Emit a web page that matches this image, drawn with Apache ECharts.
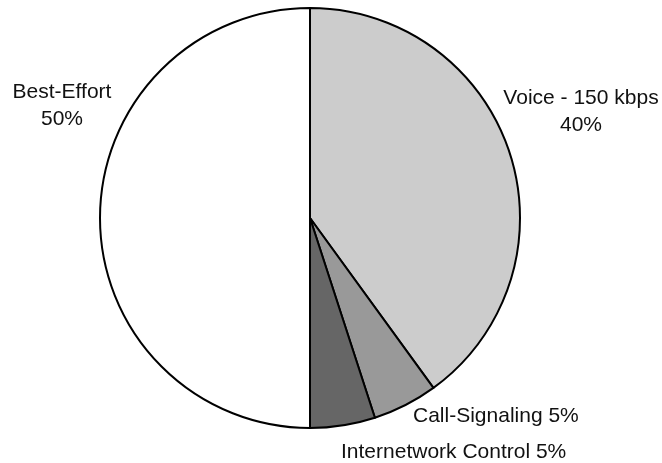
<!DOCTYPE html>
<html><head><meta charset="utf-8">
<script src="https://cdn.jsdelivr.net/npm/echarts@6/dist/echarts.min.js"></script>
<style>html,body{margin:0;padding:0;background:#fff}#c{width:662px;height:463px}</style>
</head><body><div id="c"></div>
<script>
const categories = ["Voice - 150 kbps", "Call-Signaling", "Internetwork Control", "Best-Effort"];
const values = [40, 5, 5, 50];
const labelTexts = ["Voice - 150 kbps\n40%", "Call-Signaling 5%", "Internetwork Control 5%", "Best-Effort\n50%"];
const colors = ["#cccccc", "#999999", "#666666", "#ffffff"];
const labelPos = [
  {x: 581, y: 112, align: "center"},
  {x: 413, y: 416, align: "left"},
  {x: 341, y: 452, align: "left"},
  {x: 62, y: 106, align: "center"}
];
const chart = echarts.init(document.getElementById('c'));
chart.setOption({
  animation: false,
  series: [{
    type: 'pie',
    center: [310, 218],
    radius: [0, 210],
    startAngle: 90,
    clockwise: true,
    data: categories.map((n, i) => ({
      name: n, value: values[i],
      itemStyle: {color: colors[i]},
      label: {align: labelPos[i].align}
    })),
    itemStyle: {borderColor: '#000', borderWidth: 2},
    label: {
      show: true,
      formatter: p => labelTexts[p.dataIndex],
      fontFamily: 'Liberation Sans, Arial, sans-serif',
      fontSize: 21,
      color: '#111',
      lineHeight: 27,
      overflow: 'none',
      width: 300
    },
    labelLine: {show: false},
    labelLayout: p => ({x: labelPos[p.dataIndex].x, y: labelPos[p.dataIndex].y, align: labelPos[p.dataIndex].align, verticalAlign: 'middle'}),
    emphasis: {disabled: true}
  }]
});
</script></body></html>
